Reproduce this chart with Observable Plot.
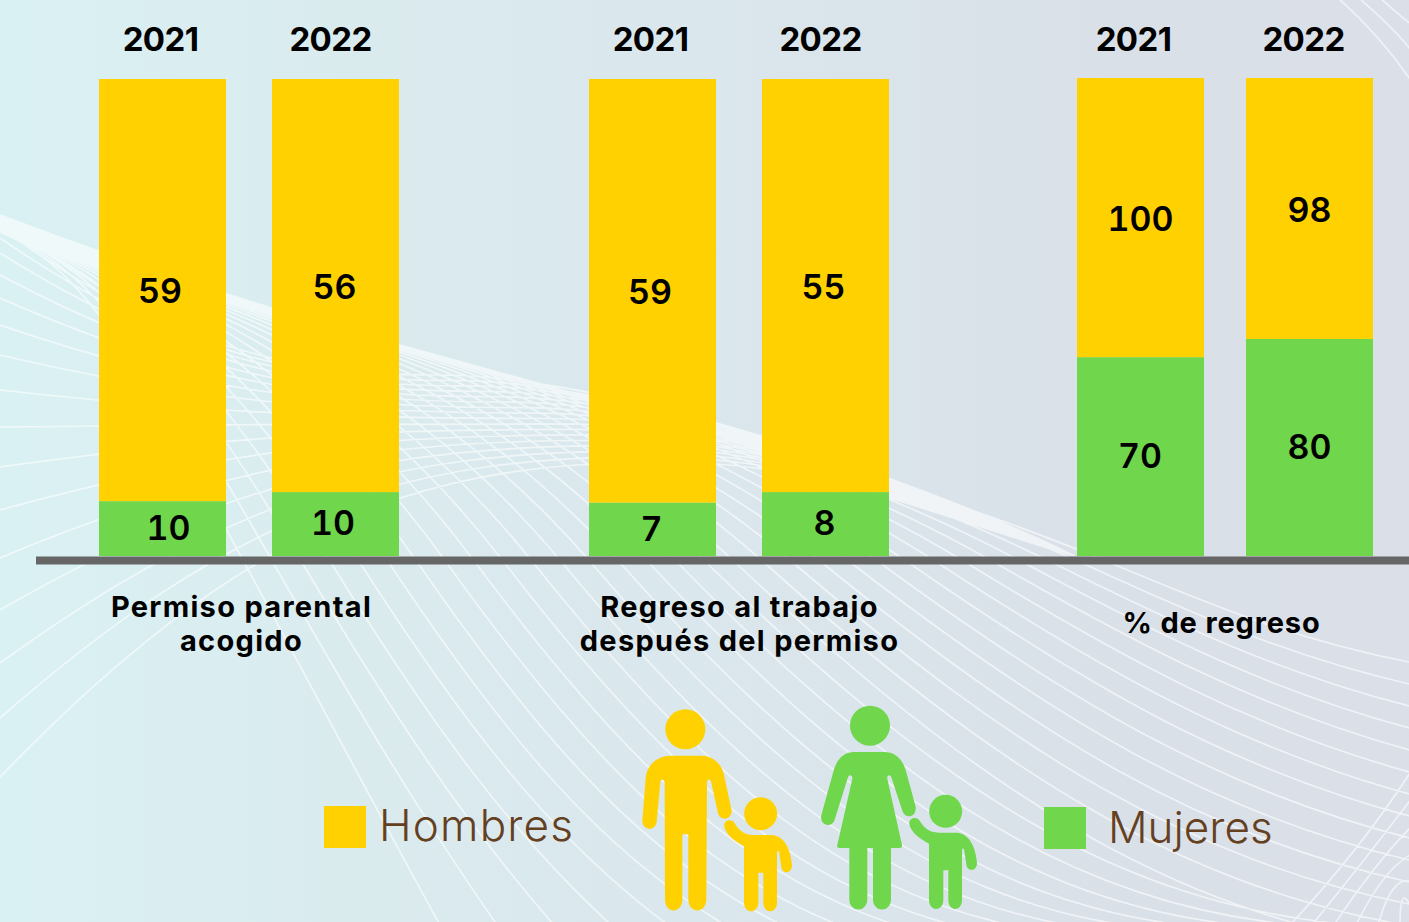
<!DOCTYPE html>
<html lang="es">
<head>
<meta charset="utf-8">
<script src="https://cdn.jsdelivr.net/npm/d3@7"></script>
<script src="https://cdn.jsdelivr.net/npm/@observablehq/plot@0.6"></script>
<style>
  html,body{margin:0;padding:0;overflow:hidden}
  #page{position:relative;width:1409px;height:922px;overflow:hidden;
    background:linear-gradient(90deg,#daf1f3 0%,#daebee 25%,#dae6ec 55%,#dae0e8 80%,#dadfe8 100%);
    font-family:Inter,"Open Sans",sans-serif}
  #page>svg{position:absolute;left:0;top:0;background:transparent;overflow:hidden}
  .cat text{letter-spacing:1.3px}
  .cat3 text{letter-spacing:.85px}
  .yr text{letter-spacing:-.6px}
</style>
</head>
<body>
<div id="page"></div>
<script>
// ---- Data ----
const years = [2021, 2022];
const categories = ["Permiso parental\nacogido", "Regreso al trabajo\ndespués del permiso", "% de regreso"];
const hombresLabels = [[59, 56], [59, 55], [100, 98]];
const mujeresLabels = [[10, 10], [7, 8], [70, 80]];
// share of each bar's drawn height taken by the green segment (as drawn, in %)
const mujeresShare = [[11.5, 13.4], [11.2, 13.4], [41.6, 45.4]];
const seriesNames = ["Mujeres", "Hombres"];
const seriesColors = ["#70d64c", "#ffd100"];

// ---- Layout (not data) ----
const W = 1409, H = 922;
const panels = [
  {xr: [99, 399],   pad: 46 / 173, top: 79, yearDx: [-2.5, -5.5], hDx: [-3, -1.5], mDx: [5.5, -3], catX: 241},
  {xr: [589, 889],  pad: 46 / 173, top: 79, yearDx: [-2.5, -5.5], hDx: [-3, -2.5], mDx: [-1.5, -1.5], catX: 739},
  {xr: [1076, 1373], pad: 42.5 / 169.75, top: 78, yearDx: [-7.5, -6.5], hDx: [-.5, -.5], mDx: [-1, -.5], catX: 1221}
];
const catDy = [[607, 641], [607, 641], [623]];

const page = document.getElementById("page");
const ns = "http://www.w3.org/2000/svg";

// ---- Decorative backdrop: mesh of thin white curves ----
function backdrop() {
  const s = document.createElementNS(ns, "svg");
  s.setAttribute("width", W); s.setAttribute("height", H);
  let d = "";
  const lerp = (a, b, t) => a + (b - a) * t;
  // fan opening from the left convergence towards the lower right
  for (let k = 0; k <= 30; k++) {
    const u = k / 30;
    const xb = 245 + 868 * u, yb = 564;
    const y0 = lerp(232, 215, u);
    const sb = lerp(1.84, 0.42, Math.pow(u, 0.8));
    const len1 = xb * 0.3;
    let ex, ey;
    if (k >= 17) { ex = 1409; ey = 662 + 22 * (30 - k); }
    else { ex = 440 + 57 * k; ey = 925; }
    const chord = (ey - yb) / (ex - xb);
    const se = Math.max(0.02, 2 * chord - sb - 0.05);
    const len2 = (ex - xb) * 0.36;
    d += `M0 ${y0}C${xb * 0.4} ${y0 + xb * 0.4 * 0.38} ${xb - len1} ${yb - len1 * sb} ${xb} ${yb}`;
    d += `C${xb + len2} ${yb + len2 * sb} ${ex - len2} ${ey - len2 * se} ${ex} ${ey}`;
  }
  // arcs rising from the left edge to a crest and merging into the envelope
  const arcY0 = [217, 227, 238, 253, 275, 298, 325, 355, 390, 427, 467, 510, 558, 610, 663, 718, 777];
  arcY0.forEach((y0, i) => {
    const t = i / (arcY0.length - 1);
    const xc = lerp(440, 660, t), yc = lerp(375, 462, t);
    d += `M0 ${y0}C${xc * 0.36} ${lerp(y0, yc, 0.78)} ${xc * 0.62} ${yc} ${xc} ${yc}`;
    d += `C${xc + 160} ${yc} ${900} ${lerp(470, 505, t)} 1075 ${556}`;
  });
  // converging fan, lower right corner
  for (let i = 0; i < 6; i++) {
    d += `M${1290 + 22 * i} 925Q${1360 + 8 * i} ${850 + 6 * i} 1412 ${770 + 28 * i}`;
  }
  // top right corner arcs
  for (let i = 0; i < 3; i++) {
    d += `M${1338 + 21 * i} -2Q${1380 + 21 * i} 35 1412 ${82 - 30 * i}`;
  }
  const p = document.createElementNS(ns, "path");
  p.setAttribute("d", d);
  p.setAttribute("fill", "none");
  p.setAttribute("stroke", "#ffffff");
  p.setAttribute("stroke-opacity", "0.6");
  p.setAttribute("stroke-width", "1.7");
  s.appendChild(p);

  // legend + family pictograms
  const child = "M372 468C340 452 318 432 313 410C310 392 332 384 343 398C357 421 372 435 402 435L455 435C495 438 512 480 516 525C516 553 486 553 484 530L478 490C477 480 471 480 471 490L471 640C468 672 433 672 430 640L430 548L415 548L415 640C412 672 375 672 372 640Z";
  const man = "M152 197L243 197C280 197 305 222 312 255L335 362C333 392 300 393 294 370L273 274C270 266 262 266 261 276L259 630C256 672 208 672 205 630L205 433L187 433L187 630C184 672 137 672 135 630L134 278C133 266 123 266 121 276L110 395C106 425 67 422 67 392L77 265C80 225 112 197 152 197Z";
  const woman = "M703 186L793 186C825 186 848 208 857 240L887 350C890 384 855 388 847 362L814 262C810 252 800 254 802 266L846 465C847 472 844 474 838 474L813 474L813 630C810 668 762 668 759 630L759 474L742 474L742 630C739 668 691 668 688 630L688 474L658 474C652 474 650 471 652 465L697 266C698 254 687 252 684 262L643 392C632 416 598 404 604 376L640 245C650 208 670 186 703 186Z";
  const g = document.createElementNS(ns, "g");
  g.setAttribute("transform", "translate(620 690) scale(.33333)");
  g.innerHTML = `
    <g fill="#ffd100"><circle cx="196" cy="118" r="60"/><path d="${man}"/><circle cx="422" cy="371" r="49.5"/><path d="${child}"/></g>
    <g fill="#70d64c"><circle cx="750" cy="107" r="60"/><path d="${woman}"/><circle cx="977" cy="364" r="49.5"/><path transform="translate(555 -7)" d="${child}"/></g>`;
  s.appendChild(g);
  const leg = document.createElementNS(ns, "g");
  leg.innerHTML = `
    <rect x="324" y="806" width="42" height="42" fill="#ffd100"/>
    <text x="379" y="841" font-size="44" font-weight="300" fill="#64401f" letter-spacing="1.2">Hombres</text>
    <rect x="1044" y="807" width="42" height="42" fill="#70d64c"/>
    <text x="1108" y="843" font-size="44" font-weight="300" fill="#64401f" letter-spacing="0">Mujeres</text>`;
  s.appendChild(leg);
  return s;
}
page.appendChild(backdrop());

// ---- Panels ----
panels.forEach((panel, g) => {
  const rows = [];
  years.forEach((year, i) => {
    const share = mujeresShare[g][i];
    rows.push({year, series: seriesNames[0], height: share, mid: share / 2, label: mujeresLabels[g][i], nudge: panel.mDx[i], lift: 0});
    rows.push({year, series: seriesNames[1], height: 100 - share, mid: share + (100 - share) / 2, label: hombresLabels[g][i], nudge: panel.hDx[i], lift: 2});
  });
  const labelMarks = rows.map((r) =>
    Plot.text([r], {
      x: "year", y: "mid", text: "label", dx: r.nudge, dy: r.lift,
      fontSize: 34, fontWeight: 600, fill: "#000"
    }));
  const lines = categories[g].split("\n");
  const frameLeft = g === 0 ? 36 : 0;
  const plot = Plot.plot({
    width: W, height: H,
    marginTop: 0, marginBottom: 0, marginRight: 0, marginLeft: frameLeft,
    style: {background: "transparent", fontFamily: "Inter, 'Open Sans', sans-serif"},
    x: {type: "band", domain: years, range: panel.xr, paddingInner: panel.pad, paddingOuter: 0, axis: null},
    y: {domain: [0, 100], range: [556, panel.top], axis: null},
    color: {domain: seriesNames, range: seriesColors},
    marks: [
      ...(g === 0 ? [Plot.ruleY([0], {stroke: "#666666", strokeWidth: 8, dy: 4})] : []),
      Plot.barY(rows, Plot.stackY({x: "year", y: "height", z: "series", order: seriesNames, fill: "series"})),
      ...labelMarks,
      ...years.map((year, i) => Plot.text([year], {
        x: (d) => d, text: (d) => String(d), frameAnchor: "top", dy: 40, dx: panel.yearDx[i],
        lineAnchor: "middle", fontSize: 33, fontWeight: 700, fill: "#000", className: "yr"
      })),
      ...lines.map((line, k) => Plot.text([line], {
        text: (d) => d, frameAnchor: "top-left", dx: panel.catX - frameLeft, dy: catDy[g][k],
        lineAnchor: "middle", textAnchor: "middle", fontSize: 29, fontWeight: 700, fill: "#000",
        className: g === 2 ? "cat3" : "cat"
      }))
    ]
  });
  page.appendChild(plot);
});
</script>
</body>
</html>
